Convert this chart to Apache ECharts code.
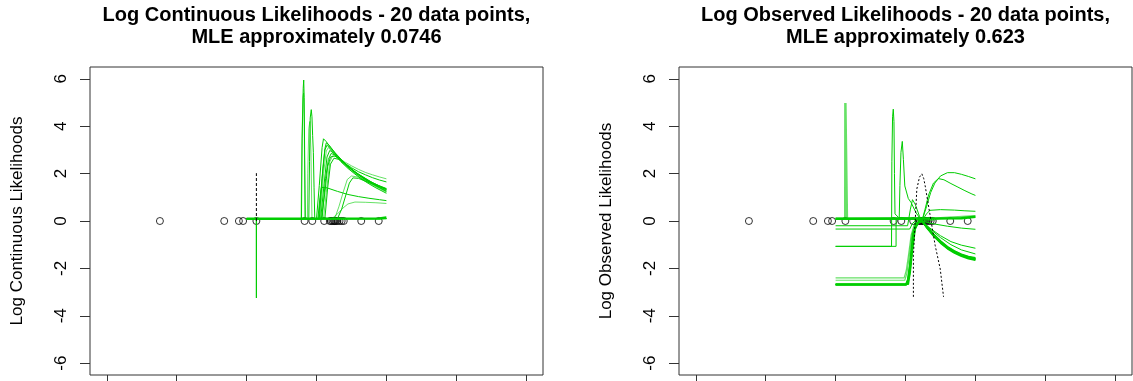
<!DOCTYPE html>
<html>
<head>
<meta charset="utf-8">
<script src="https://cdn.jsdelivr.net/npm/echarts@6/dist/echarts.min.js"></script>
<style>
  html, body { margin: 0; padding: 0; background: #fff; }
  #chart { width: 1133px; height: 381px; }
</style>
</head>
<body>
<div id="chart"></div>
<script>
const FONT = '"Liberation Sans", Arial, Helvetica, sans-serif';
const GREEN = '#00cd00';
const GREEN_LIGHT = 'rgba(0,205,0,0.6)';

const xTicks = [-3, -2, -1, 0, 1, 2, 3];
const yTicks = [-6, -4, -2, 0, 2, 4, 6];

// the 20 observations, drawn as circles on y = 0
const dataPoints = [-2.24, -1.32, -1.11, -1.05, -0.86, -0.17, -0.06, 0.11, 0.19, 0.21,
  0.23, 0.25, 0.26, 0.28, 0.30, 0.33, 0.36, 0.39, 0.64, 0.89];

// ---- left panel: log continuous likelihoods ----
const contBaseline = [[-1, 0.1], [0.9, 0.11], [1, 0.15]];
const contDip = [[-1, 0.1], [-0.862, 0.1], [-0.86, -3.25], [-0.858, 0.1], [1, 0.1]];
const contDashed = [[-0.86, 0], [-0.86, 2.02]];
const contSpikes = [
  [[-1, 0.1], [-0.215, 0.1], [-0.205, 3.5], [-0.19, 5.6], [-0.183, 5.95], [-0.176, 5.2], [-0.17, 3.0], [-0.16, 0.1], [1, 0.1]],
  [[-1, 0.1], [-0.22, 0.1], [-0.21, 3.0], [-0.195, 5.2], [-0.185, 5.4], [-0.175, 4.0], [-0.165, 0.1]],
  [[-1, 0.1], [-0.11, 0.1], [-0.1, 2.5], [-0.09, 4.35], [-0.075, 4.7], [-0.065, 4.4], [-0.055, 3.6], [-0.045, 2.9], [-0.035, 1.4], [-0.025, 0.1], [1, 0.1]],
  [[-1, 0.1], [-0.13, 0.1], [-0.125, 2.0], [-0.11, 3.9], [-0.095, 4.2], [-0.08, 3.0], [-0.065, 0.1]]
];
const contFamily = [
  [[-1, 0.1], [0.0, 0.1], [0.04, 1.5], [0.08, 3.1], [0.1, 3.47], [0.14, 3.35], [0.2, 3.1], [0.3, 2.75], [0.4, 2.45], [0.5, 2.2], [0.6, 1.98], [0.7, 1.8], [0.8, 1.62], [0.9, 1.48], [1.0, 1.35]],
  [[-1, 0.1], [0.03, 0.1], [0.08, 1.8], [0.12, 3.0], [0.15, 3.2], [0.2, 3.05], [0.3, 2.72], [0.4, 2.42], [0.5, 2.18], [0.6, 1.95], [0.7, 1.75], [0.8, 1.57], [0.9, 1.42], [1.0, 1.28]],
  [[-1, 0.1], [0.05, 0.1], [0.1, 2.0], [0.14, 2.95], [0.17, 3.1], [0.22, 2.95], [0.3, 2.68], [0.4, 2.38], [0.5, 2.12], [0.6, 1.9], [0.7, 1.7], [0.8, 1.52], [0.9, 1.37], [1.0, 1.22]],
  [[-1, 0.1], [0.06, 0.1], [0.11, 1.6], [0.15, 2.7], [0.19, 2.98], [0.25, 2.85], [0.35, 2.5], [0.45, 2.22], [0.55, 1.98], [0.65, 1.76], [0.75, 1.57], [0.85, 1.4], [1.0, 1.17]],
  [[-1, 0.1], [0.08, 0.1], [0.13, 1.8], [0.17, 2.6], [0.21, 2.85], [0.27, 2.78], [0.35, 2.55], [0.45, 2.28], [0.55, 2.04], [0.65, 1.84], [0.75, 1.65], [0.85, 1.48], [1.0, 1.25]],
  [[-1, 0.1], [0.1, 0.1], [0.14, 1.2], [0.19, 2.5], [0.23, 2.75], [0.3, 2.7], [0.4, 2.5], [0.5, 2.33], [0.6, 2.18], [0.7, 2.05], [0.8, 1.95], [0.9, 1.86], [1.0, 1.78]],
  [[-1, 0.1], [0.12, 0.1], [0.16, 1.4], [0.2, 2.4], [0.25, 2.65], [0.32, 2.6], [0.4, 2.45], [0.5, 2.25], [0.6, 2.08], [0.7, 1.95], [0.8, 1.83], [0.9, 1.73], [1.0, 1.65]],
  [[-1, 0.1], [0.04, 0.1], [0.09, 2.2], [0.12, 3.05], [0.14, 3.3], [0.18, 3.2], [0.26, 2.9], [0.36, 2.58], [0.46, 2.3], [0.56, 2.05], [0.66, 1.85], [0.76, 1.66], [0.88, 1.48], [1.0, 1.32]],
  [[-1, 0.1], [0.26, 0.1], [0.32, 0.6], [0.38, 1.2], [0.44, 1.75], [0.5, 1.9], [0.6, 1.85], [0.7, 1.72], [0.8, 1.6], [0.9, 1.48], [1.0, 1.38]],
  [[-1, 0.1], [0.3, 0.1], [0.36, 0.5], [0.42, 1.1], [0.47, 1.6], [0.52, 1.82], [0.6, 1.8], [0.7, 1.68], [0.8, 1.56], [0.9, 1.45], [1.0, 1.35]],
  [[-1, 0.1], [0.02, 0.1], [0.05, 1.0], [0.07, 1.42], [0.15, 1.4], [0.3, 1.25], [0.45, 1.12], [0.6, 1.03], [0.75, 0.96], [0.9, 0.9], [1.0, 0.86]],
  [[-1, 0.1], [0.22, 0.1], [0.3, 0.3], [0.38, 0.55], [0.45, 0.72], [0.55, 0.8], [0.7, 0.79], [0.85, 0.77], [1.0, 0.74]],
  [[-1, 0.1], [0.07, 0.1], [0.12, 1.2], [0.16, 2.3], [0.2, 2.7], [0.26, 2.75], [0.35, 2.55], [0.45, 2.3], [0.55, 2.07], [0.65, 1.88], [0.75, 1.7], [0.85, 1.55], [1.0, 1.35]]
];

// ---- right panel: log observed likelihoods ----
const obsBaseline = [[-1, 0.1], [0.8, 0.12], [1, 0.18]];
const obsRect = [[-1, 0.1], [-0.862, 0.1], [-0.86, 4.98], [-0.84, 4.98], [-0.838, 0.1], [0.2, 0.1], [0.235, 0], [0.5, 0.12], [1, 0.2]];
const obsDashed = [[0.113, -3.2], [0.113, -1.47], [0.138, -0.04], [0.162, 1.35], [0.2, 1.85], [0.234, 1.99], [0.26, 1.8], [0.281, 1.49], [0.353, 0.22], [0.425, -1.04], [0.497, -2.03], [0.544, -3.2]];
const obsSpikes = [
  [[-1, -1.07], [-0.2, -1.07], [-0.195, 2.5], [-0.185, 4.4], [-0.175, 4.72], [-0.165, 4.2], [-0.158, 2.0], [-0.15, 0.3], [-0.1, 0.15], [0.2, 0.1], [0.235, 0], [0.35, -0.3], [0.5, -0.62], [0.65, -0.87], [0.8, -1.02], [1, -1.15]],
  [[-1, -1.07], [-0.135, -1.07], [-0.135, 0.1], [0.2, 0.08], [0.235, 0], [0.35, -0.33], [0.5, -0.7], [0.65, -1.0], [0.8, -1.22], [1, -1.39]],
  [[-1, 0.1], [-0.09, 0.1], [-0.08, 1.5], [-0.065, 2.9], [-0.046, 3.36], [-0.03, 2.6], [-0.01, 1.48], [0.04, 0.95], [0.08, 0.78], [0.15, 0.35], [0.235, 0], [0.4, -0.12], [0.6, -0.22], [0.8, -0.3], [1, -0.35]]
];
const obsLow = [
  [[-1, -2.7], [0.01, -2.7], [0.04, -2.4], [0.07, -1.7], [0.11, -0.5], [0.16, -0.1], [0.235, 0], [0.3, -0.27], [0.4, -0.63], [0.5, -0.93], [0.6, -1.17], [0.7, -1.35], [0.8, -1.49], [0.9, -1.59], [1, -1.66]],
  [[-1, -2.68], [0.02, -2.68], [0.05, -2.3], [0.08, -1.5], [0.12, -0.45], [0.17, -0.08], [0.235, 0], [0.3, -0.25], [0.4, -0.6], [0.5, -0.9], [0.6, -1.14], [0.7, -1.32], [0.8, -1.46], [0.9, -1.56], [1, -1.63]],
  [[-1, -2.66], [0.03, -2.66], [0.06, -2.2], [0.09, -1.4], [0.13, -0.4], [0.18, -0.06], [0.235, 0], [0.3, -0.24], [0.4, -0.58], [0.5, -0.88], [0.6, -1.12], [0.7, -1.3], [0.8, -1.44], [0.9, -1.54], [1, -1.6]],
  [[-1, -2.69], [0.0, -2.69], [0.03, -2.5], [0.06, -1.9], [0.1, -0.7], [0.15, -0.12], [0.235, 0], [0.3, -0.23], [0.4, -0.56], [0.5, -0.86], [0.6, -1.1], [0.7, -1.28], [0.8, -1.42], [0.9, -1.52], [1, -1.58]],
  [[-1, -2.67], [0.04, -2.67], [0.07, -2.1], [0.1, -1.2], [0.14, -0.3], [0.19, -0.05], [0.235, 0], [0.3, -0.22], [0.4, -0.55], [0.5, -0.84], [0.6, -1.08], [0.7, -1.26], [0.8, -1.4], [0.9, -1.5], [1, -1.55]]
];
const obsLowLight = [
  [[-1, -2.5], [-0.01, -2.5], [0.02, -2.2], [0.05, -1.6], [0.09, -0.6], [0.14, -0.1], [0.235, 0], [0.3, -0.26], [0.4, -0.62], [0.5, -0.92], [0.6, -1.15], [0.7, -1.33], [0.8, -1.46], [0.9, -1.56], [1, -1.62]],
  [[-1, -2.4], [-0.02, -2.4], [0.01, -2.1], [0.04, -1.5], [0.08, -0.6], [0.13, -0.1], [0.235, 0], [0.3, -0.24], [0.4, -0.58], [0.5, -0.88], [0.6, -1.12], [0.7, -1.3], [0.8, -1.43], [0.9, -1.53], [1, -1.6]]
];
const obsMid = [
  [[-1, -0.34], [0.06, -0.34], [0.1, -0.1], [0.16, 0.05], [0.235, 0], [0.3, 0.6], [0.36, 1.2], [0.42, 1.6], [0.5, 1.9], [0.6, 2.04], [0.7, 2.04], [0.8, 1.97], [0.9, 1.88], [1, 1.78]],
  [[-1, -0.2], [0.03, -0.2], [0.07, 0.5], [0.1, 0.9], [0.14, 0.7], [0.2, 0.2], [0.235, 0], [0.28, 0.5], [0.33, 1.1], [0.4, 1.6], [0.47, 1.79], [0.55, 1.74], [0.65, 1.58], [0.75, 1.43], [0.85, 1.28], [0.95, 1.14], [1, 1.08]],
  [[-1, 0.08], [0.15, 0.08], [0.235, 0], [0.3, 0.3], [0.35, 0.45], [0.5, 0.48], [0.7, 0.46], [0.85, 0.43], [1, 0.41]]
];

const panels = [
  { left: 90, title: 'Log Continuous Likelihoods - 20 data points,\nMLE approximately 0.0746', ylab: 'Log Continuous Likelihoods' },
  { left: 679, title: 'Log Observed Likelihoods - 20 data points,\nMLE approximately 0.623', ylab: 'Log Observed Likelihoods' }
];
const PLOT_W = 453, PLOT_TOP = 67, PLOT_H = 308;

function line(gi, pts, color, width, type) {
  return {
    type: 'line', xAxisIndex: gi, yAxisIndex: gi, data: pts,
    showSymbol: false, symbol: 'none', silent: true, animation: false,
    lineStyle: { color: color, width: width, type: type || 'solid' }
  };
}

const series = [];
[0, 1].forEach(function (gi) {
  series.push({
    type: 'scatter', xAxisIndex: gi, yAxisIndex: gi, silent: true, animation: false,
    data: dataPoints.map(function (x) { return [x, 0]; }),
    symbol: 'circle', symbolSize: 7,
    itemStyle: { color: 'transparent', borderColor: '#000', borderWidth: 1 }
  });
});

// left
contFamily.forEach(function (c, i) { series.push(line(0, c, i % 3 === 2 ? GREEN_LIGHT : GREEN, 1)); });
contSpikes.forEach(function (c, i) { series.push(line(0, c, i % 2 ? GREEN_LIGHT : GREEN, 1)); });
series.push(line(0, contDip, GREEN, 1));
series.push(line(0, contBaseline, GREEN, 2.5));
series.push(line(0, contDashed, '#000', 1, [3, 2]));

// right
obsLowLight.forEach(function (c) { series.push(line(1, c, GREEN_LIGHT, 1.2)); });
obsLow.forEach(function (c) { series.push(line(1, c, GREEN, 1.6)); });
obsMid.forEach(function (c) { series.push(line(1, c, GREEN, 1)); });
obsSpikes.forEach(function (c) { series.push(line(1, c, GREEN, 1)); });
series.push(line(1, obsRect, GREEN_LIGHT, 2.5));
series.push(line(1, obsBaseline, GREEN, 2.5));
series.push(line(1, obsDashed, '#000', 1, [2, 2]));

const option = {
  backgroundColor: '#fff',
  animation: false,
  grid: panels.map(function (p) {
    return { left: p.left, top: PLOT_TOP, width: PLOT_W, height: PLOT_H, show: true,
      borderColor: '#333', borderWidth: 1, backgroundColor: 'transparent' };
  }),
  xAxis: panels.map(function (p, gi) {
    return {
      gridIndex: gi, type: 'value', min: -3.24, max: 3.24, position: 'bottom',
      axisLine: { show: false, onZero: false },
      axisTick: { show: true, inside: false, length: 10, customValues: xTicks, lineStyle: { color: '#333' } },
      axisLabel: { show: false },
      splitLine: { show: false }
    };
  }),
  yAxis: panels.map(function (p, gi) {
    return {
      gridIndex: gi, type: 'value', min: -6.5, max: 6.5, position: 'left',
      axisLine: { show: false, onZero: false },
      axisTick: { show: true, inside: false, length: 10, customValues: yTicks, lineStyle: { color: '#333' } },
      axisLabel: { show: true, customValues: yTicks, rotate: 90, margin: 20, color: '#000', fontSize: 17, fontFamily: FONT },
      splitLine: { show: false },
      name: p.ylab, nameLocation: 'middle', nameGap: 64, nameRotate: 90,
      nameTextStyle: { color: '#000', fontSize: 17, fontFamily: FONT }
    };
  }),
  graphic: panels.map(function (p) {
    return {
      type: 'text', x: p.left + PLOT_W / 2, y: 4, silent: true,
      style: { text: p.title, textAlign: 'center', textVerticalAlign: 'top',
        font: 'bold 20px ' + FONT, lineHeight: 22, fill: '#000' }
    };
  }),
  series: series
};

const chart = echarts.init(document.getElementById('chart'), null, { renderer: 'canvas' });
chart.setOption(option);
</script>
</body>
</html>
